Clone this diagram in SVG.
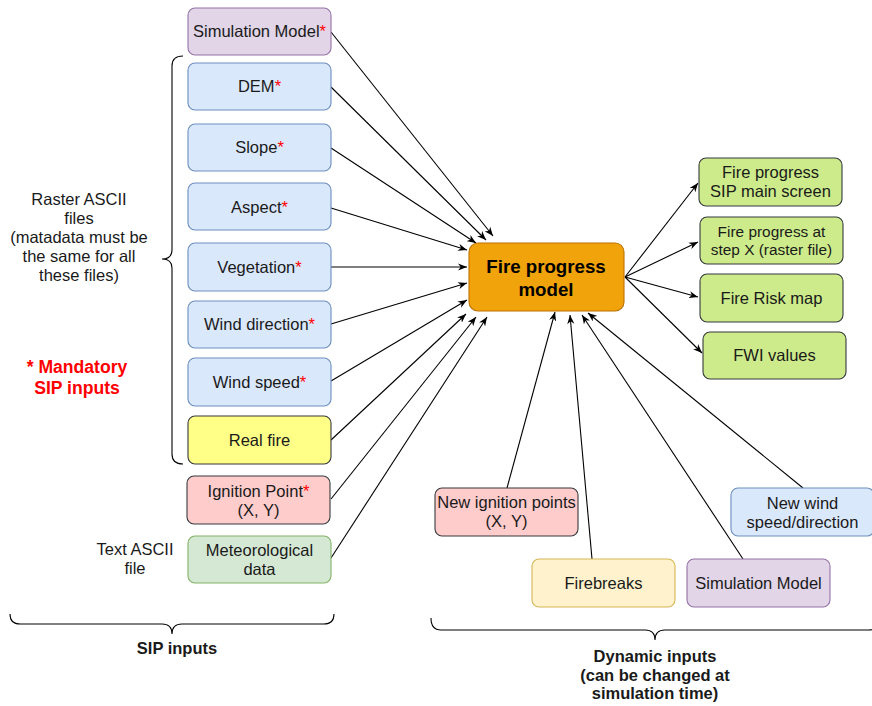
<svg xmlns="http://www.w3.org/2000/svg" width="872" height="706" viewBox="0 0 872 706">
<defs>
<marker id="arr" viewBox="0 0 10 8" refX="10" refY="4" markerWidth="9" markerHeight="7.5" orient="auto" markerUnits="userSpaceOnUse">
<path d="M0,0 L10,4 L0,8 L3,4 z" fill="#000"/>
</marker>
<style>
text{font-family:"Liberation Sans",Arial,Helvetica,sans-serif;fill:#1a1a1a;text-anchor:middle;font-size:16.5px}
.b{font-weight:bold}
.red{fill:#ff0000}
.sm{font-size:15.4px}
.c{font-size:18.7px;font-weight:bold;fill:#000}
.m{font-size:17.6px;font-weight:bold;fill:#ff0000}
.blue{fill:#dae8fc;stroke:#6c8ebf}
.purple{fill:#e1d5e7;stroke:#9673a6}
.green{fill:#cdeb8b;stroke:#36393d}
.mgreen{fill:#d5e8d4;stroke:#82b366}
.pink{fill:#ffcccc;stroke:#36393d}
.yel{fill:#ffff88;stroke:#36393d}
.lyel{fill:#fff2cc;stroke:#d6b656}
rect{stroke-width:1.1}
.edge line{stroke:#000;stroke-width:1.1;marker-end:url(#arr)}
.brace{fill:none;stroke:#000;stroke-width:1.1}
</style>
</defs>
<rect width="872" height="706" fill="#fff"/>

<g id="braces">
<path class="brace" d="M183 56 Q172 56 172 66 L172 250 Q172 259 162 259 Q172 259 172 268 L172 454 Q172 464 183 464"/>
<path class="brace" d="M10 614 Q10 624 20 624 L162 624 Q172 624 172 634 Q172 624 182 624 L324 624 Q334 624 334 614"/>
<path class="brace" d="M431 618 Q431 630 441 630 L645 630 Q655 630 655 640 Q655 630 665 630 L869 630 Q879 630 879 618"/>
</g>

<g id="labels">
<text x="79" y="205">Raster ASCII</text>
<text x="79" y="224">files</text>
<text x="79" y="243">(matadata must be</text>
<text x="79" y="262">the same for all</text>
<text x="79" y="281">these files)</text>
<text class="m" x="77" y="373">* Mandatory</text>
<text class="m" x="77" y="394">SIP inputs</text>
<text x="135" y="555">Text ASCII</text>
<text x="135" y="574">file</text>
<text class="b" x="177" y="654">SIP inputs</text>
<text class="b" x="655" y="662">Dynamic inputs</text>
<text class="b" x="655" y="681">(can be changed at</text>
<text class="b" x="655" y="699">simulation time)</text>
</g>

<g class="edge" id="connectors">
<line x1="331" y1="32" x2="493" y2="236"/>
<line x1="331" y1="87" x2="486" y2="240"/>
<line x1="331" y1="148" x2="476" y2="243"/>
<line x1="331" y1="208" x2="467" y2="250"/>
<line x1="331" y1="267" x2="467" y2="267"/>
<line x1="331" y1="324" x2="467" y2="283"/>
<line x1="331" y1="381" x2="467" y2="300"/>
<line x1="331" y1="440" x2="466" y2="314"/>
<line x1="331" y1="499" x2="476" y2="317"/>
<line x1="331" y1="558" x2="487" y2="317"/>
<line x1="625" y1="277" x2="698" y2="183"/>
<line x1="625" y1="277" x2="698" y2="242"/>
<line x1="625" y1="277" x2="698" y2="297"/>
<line x1="625" y1="277" x2="702" y2="353"/>
<line x1="507" y1="488" x2="555" y2="312"/>
<line x1="592" y1="559" x2="570" y2="315"/>
<line x1="743" y1="559" x2="582" y2="315"/>
<line x1="803" y1="488" x2="588" y2="313"/>
</g>

<g id="sim-model">
<rect class="purple" x="188" y="8" width="143" height="47" rx="7"/>
<text x="259.5" y="37">Simulation Model<tspan class="red">*</tspan></text>
</g>
<g id="dem">
<rect class="blue" x="188" y="63" width="143" height="47" rx="7"/>
<text x="259.5" y="92">DEM<tspan class="red">*</tspan></text>
</g>
<g id="slope">
<rect class="blue" x="188" y="124" width="143" height="47" rx="7"/>
<text x="259.5" y="153">Slope<tspan class="red">*</tspan></text>
</g>
<g id="aspect">
<rect class="blue" x="188" y="183" width="143" height="47" rx="7"/>
<text x="259.5" y="212.5">Aspect<tspan class="red">*</tspan></text>
</g>
<g id="vegetation">
<rect class="blue" x="188" y="243" width="143" height="48" rx="7"/>
<text x="259.5" y="272.5">Vegetation<tspan class="red">*</tspan></text>
</g>
<g id="wind-direction">
<rect class="blue" x="188" y="301" width="143" height="47" rx="7"/>
<text x="259.5" y="330">Wind direction<tspan class="red">*</tspan></text>
</g>
<g id="wind-speed">
<rect class="blue" x="188" y="358" width="143" height="48" rx="7"/>
<text x="259.5" y="387.5">Wind speed<tspan class="red">*</tspan></text>
</g>
<g id="real-fire">
<rect class="yel" x="188" y="416" width="143" height="48" rx="7"/>
<text x="259.5" y="445.5">Real fire</text>
</g>
<g id="ignition-point">
<rect class="pink" x="187" y="476" width="143" height="48" rx="7"/>
<text x="258.5" y="497">Ignition Point<tspan class="red">*</tspan></text>
<text x="258.5" y="516">(X, Y)</text>
</g>
<g id="meteorological-data">
<rect class="mgreen" x="188" y="536" width="143" height="47" rx="7"/>
<text x="259.5" y="556">Meteorological</text>
<text x="259.5" y="575">data</text>
</g>

<g id="fire-progress-model">
<rect x="469" y="243" width="155" height="68" rx="9" fill="#f0a30a" stroke="#bd7000"/>
<text class="c" x="546" y="273">Fire progress</text>
<text class="c" x="546" y="296">model</text>
</g>

<g id="out-sip-main">
<rect class="green" x="699" y="158" width="143" height="48" rx="7"/>
<text x="770.5" y="178">Fire progress</text>
<text x="770.5" y="197">SIP main screen</text>
</g>
<g id="out-step-x">
<rect class="green" x="700" y="217" width="143" height="47" rx="7"/>
<text class="sm" x="771.5" y="237">Fire progress at</text>
<text class="sm" x="771.5" y="255">step X (raster file)</text>
</g>
<g id="out-risk-map">
<rect class="green" x="700" y="274" width="143" height="48" rx="7"/>
<text x="771.5" y="303.5">Fire Risk map</text>
</g>
<g id="out-fwi">
<rect class="green" x="703" y="332" width="143" height="47" rx="7"/>
<text x="774.5" y="361">FWI values</text>
</g>

<g id="new-ignition">
<rect class="pink" x="435" y="488" width="143" height="48" rx="7"/>
<text x="506.5" y="508">New ignition points</text>
<text x="506.5" y="527">(X, Y)</text>
</g>
<g id="new-wind">
<rect class="blue" x="731" y="488" width="143" height="48" rx="7"/>
<text x="802.5" y="508.5">New wind</text>
<text x="802.5" y="527.5">speed/direction</text>
</g>
<g id="firebreaks">
<rect class="lyel" x="532" y="559" width="143" height="48" rx="7"/>
<text x="603.5" y="589">Firebreaks</text>
</g>
<g id="dyn-sim-model">
<rect class="purple" x="687" y="559" width="143" height="48" rx="7"/>
<text x="758.5" y="589">Simulation Model</text>
</g>
</svg>
